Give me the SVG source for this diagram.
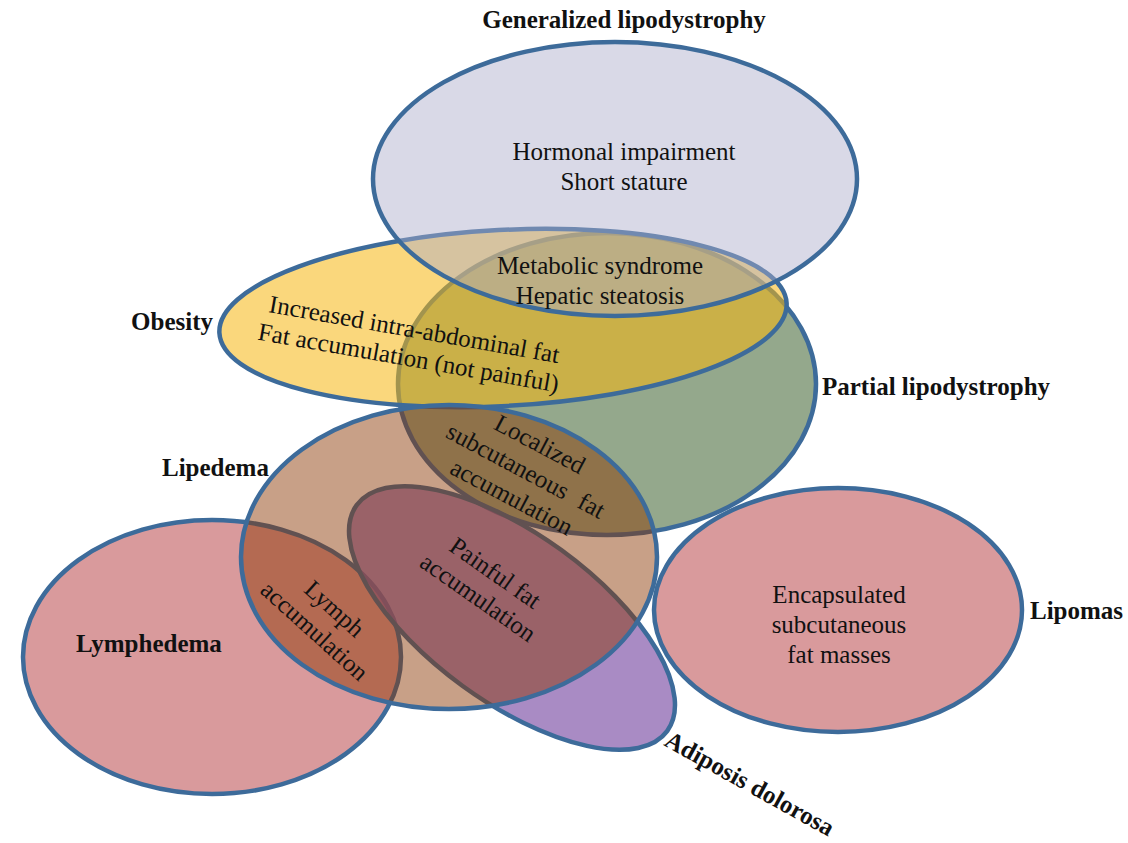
<svg xmlns="http://www.w3.org/2000/svg" width="1128" height="843" viewBox="0 0 1128 843">
<style>
.e{stroke:#3d6b9a;stroke-width:4.5}
.t{font-family:"Liberation Serif","Times New Roman",serif;font-size:25px;fill:#111}
.b{font-family:"Liberation Serif","Times New Roman",serif;font-size:25px;font-weight:bold;fill:#111}
.c{text-anchor:middle}
</style>
<rect width="1128" height="843" fill="#fff"/>
<g id="lymphedema">
<ellipse class="e" cx="212" cy="657" rx="189" ry="137" fill="#d99a9c"/>
</g>
<g id="partial-lipodystrophy">
<ellipse class="e" cx="607" cy="384" rx="209" ry="151" fill="#94a88c"/>
</g>
<g id="adiposis-dolorosa">
<ellipse class="e" cx="512" cy="618" rx="192" ry="84" transform="rotate(36 512 618)" fill="#8c64b0" fill-opacity="0.75"/>
</g>
<g id="obesity">
<ellipse class="e" cx="503" cy="318" rx="284" ry="88" transform="rotate(-3 503 318)" fill="#f5b610" fill-opacity="0.55"/>
</g>
<g id="generalized-lipodystrophy">
<ellipse class="e" cx="615" cy="179" rx="242" ry="137" fill="#acacca" fill-opacity="0.46"/>
</g>
<g id="lipedema">
<ellipse class="e" cx="449" cy="557" rx="208" ry="152" fill="#8a3500" fill-opacity="0.47"/>
</g>
<g id="lipomas">
<ellipse class="e" cx="838" cy="610" rx="184" ry="122" fill="#d99a9c"/>
</g>
<g id="connectors"></g>
<g id="labels">
<text class="b c" x="624" y="28">Generalized lipodystrophy</text>
<text class="b" x="213" y="330" text-anchor="end">Obesity</text>
<text class="b" x="822" y="395">Partial lipodystrophy</text>
<text class="b" x="162" y="476">Lipedema</text>
<text class="b" x="76" y="652">Lymphedema</text>
<text class="b" x="1030" y="619">Lipomas</text>
<text class="b" transform="translate(663 745) rotate(29)">Adiposis dolorosa</text>
</g>
<g id="texts">
<text class="t c" x="624" y="160">Hormonal impairment</text>
<text class="t c" x="624" y="190">Short stature</text>
<text class="t c" x="600" y="274">Metabolic syndrome</text>
<text class="t c" x="600" y="304">Hepatic steatosis</text>
<g transform="translate(268 312) rotate(10)">
<text class="t" x="0" y="0">Increased intra-abdominal fat</text>
<text class="t" x="-6" y="29">Fat accumulation (not painful)</text>
</g>
<g transform="translate(522 478) rotate(28)">
<text class="t c" x="0" y="-30">Localized</text>
<text class="t c" x="0" y="0" word-spacing="8">subcutaneous fat</text>
<text class="t c" x="0" y="30">accumulation</text>
</g>
<g transform="translate(482 592) rotate(35)">
<text class="t c" x="0" y="-15">Painful fat</text>
<text class="t c" x="0" y="15">accumulation</text>
</g>
<g transform="translate(319 626) rotate(42)">
<text class="t c" x="0" y="-15">Lymph</text>
<text class="t c" x="0" y="15">accumulation</text>
</g>
<text class="t c" x="839" y="603">Encapsulated</text>
<text class="t c" x="839" y="633">subcutaneous</text>
<text class="t c" x="839" y="663">fat masses</text>
</g>
</svg>
